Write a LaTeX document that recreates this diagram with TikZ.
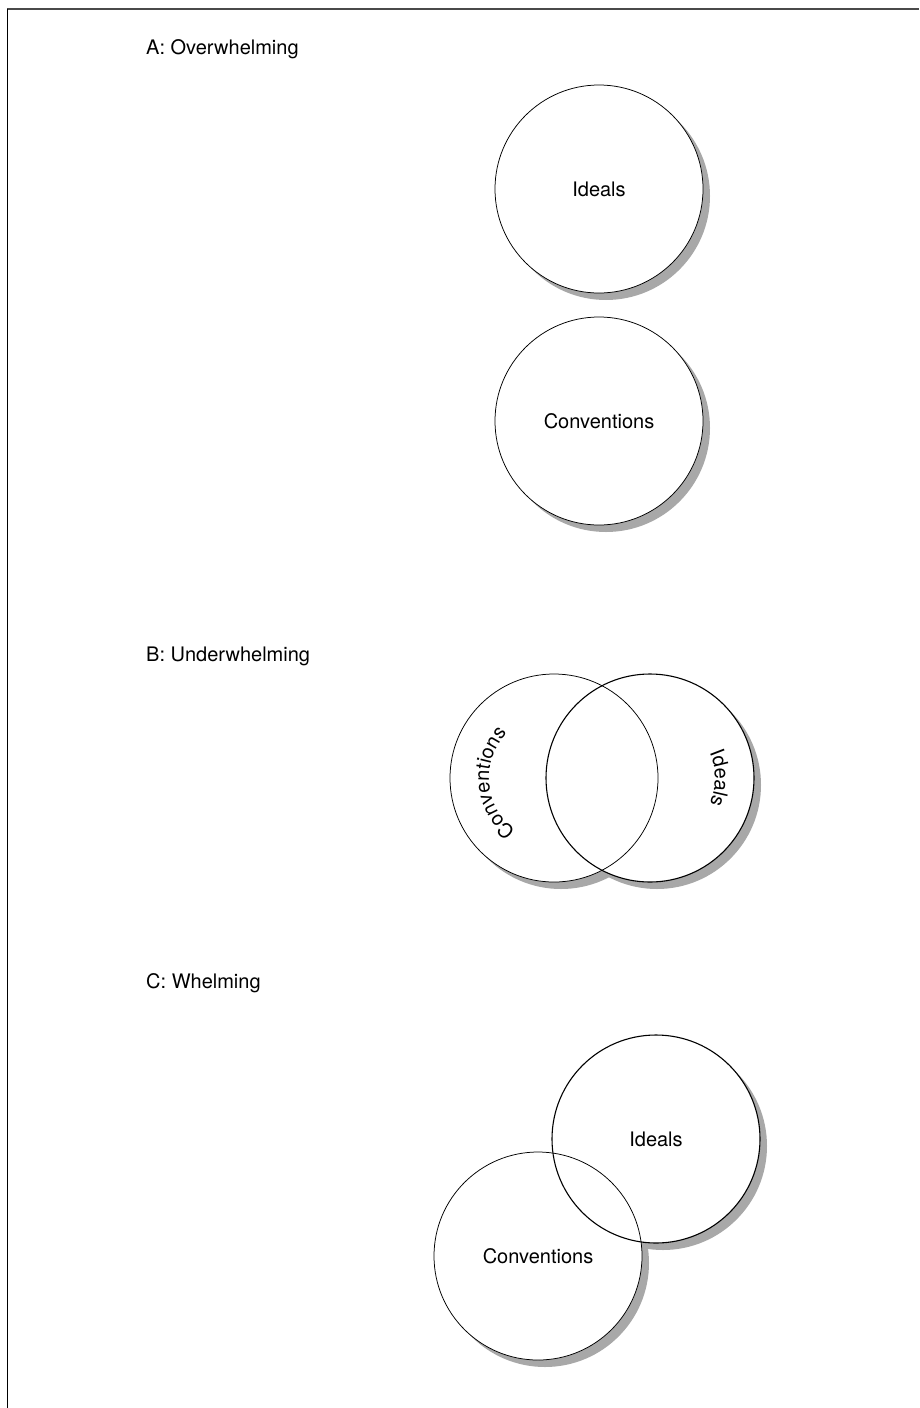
\documentclass[tikz,border=0pt]{standalone}
\usepackage{fontspec}
\setmainfont{TeX Gyre Heros}
\usetikzlibrary{calc,decorations.text}
\definecolor{shadowgray}{HTML}{A8A8A8}
\definecolor{framegray}{HTML}{4A4A4A}
\newcommand{\labelfont}{\fontsize{20}{24}\selectfont}
\tikzset{
  venn/.style={circle, draw=black, line width=0.75pt, minimum size=208pt,
               inner sep=0pt, font=\labelfont},
  heavy/.style={line width=1.1pt},
  heading/.style={anchor=base west, inner sep=0pt, font=\labelfont},
  curved/.style={decorate, decoration={text along path, text align=center}},
}
\begin{document}
\begin{tikzpicture}[x=1pt,y=-1pt]
\useasboundingbox (0,0) rectangle (919,1408);

% page frame: only the top and left edges show
\coordinate (frameTL) at (7,8.5);
\coordinate (frameTR) at (919,8.5);
\coordinate (frameBL) at (7,1408);
\draw[framegray, line width=2pt] (frameTL) -- (frameTR);
\draw[black, line width=0.9pt] (frameTL) -- (frameBL);

% circle centres
\coordinate (ai) at (599,189);
\coordinate (ac) at (599,421);
\coordinate (bc) at (554,778);
\coordinate (bi) at (650,778);
\coordinate (ci) at (656,1139);
\coordinate (cc) at (538,1256);

% drop shadows, then white discs, then outlines on top
\foreach \p in {ai,ac,bc,bi,ci,cc}
  \fill[shadowgray] ($(\p)+(7,7)$) circle[radius=104pt];
\foreach \p in {ai,ac,bc,bi,ci,cc}
  \fill[white] (\p) circle[radius=104pt];

% A: Overwhelming
\node[heading] (headA) at (146,54) {A: Overwhelming};
\node[venn] (A-ideals) at (ai) {Ideals};
\node[venn] (A-conv) at (ac) {Conventions};

% B: Underwhelming
\node[heading] (headB) at (146,661) {B: Underwhelming};
\node[venn] (B-conv) at (bc) {};
\node[venn, heavy] (B-ideals) at (bi) {};
\path[curved, decoration={text={|\labelfont|Conventions}}]
  ($(B-conv.center)+(247:65pt)$) arc[start angle=247, end angle=123, radius=65pt];
\path[curved, decoration={text={|\labelfont|Ideals}}]
  ($(B-ideals.center)+(40:65pt)$) arc[start angle=40, end angle=-40, radius=65pt];

% C: Whelming
\node[heading] (headC) at (146,988) {C: Whelming};
\node[venn, heavy] (C-ideals) at (ci) {Ideals};
\node[venn] (C-conv) at (cc) {Conventions};
\end{tikzpicture}
\end{document}
